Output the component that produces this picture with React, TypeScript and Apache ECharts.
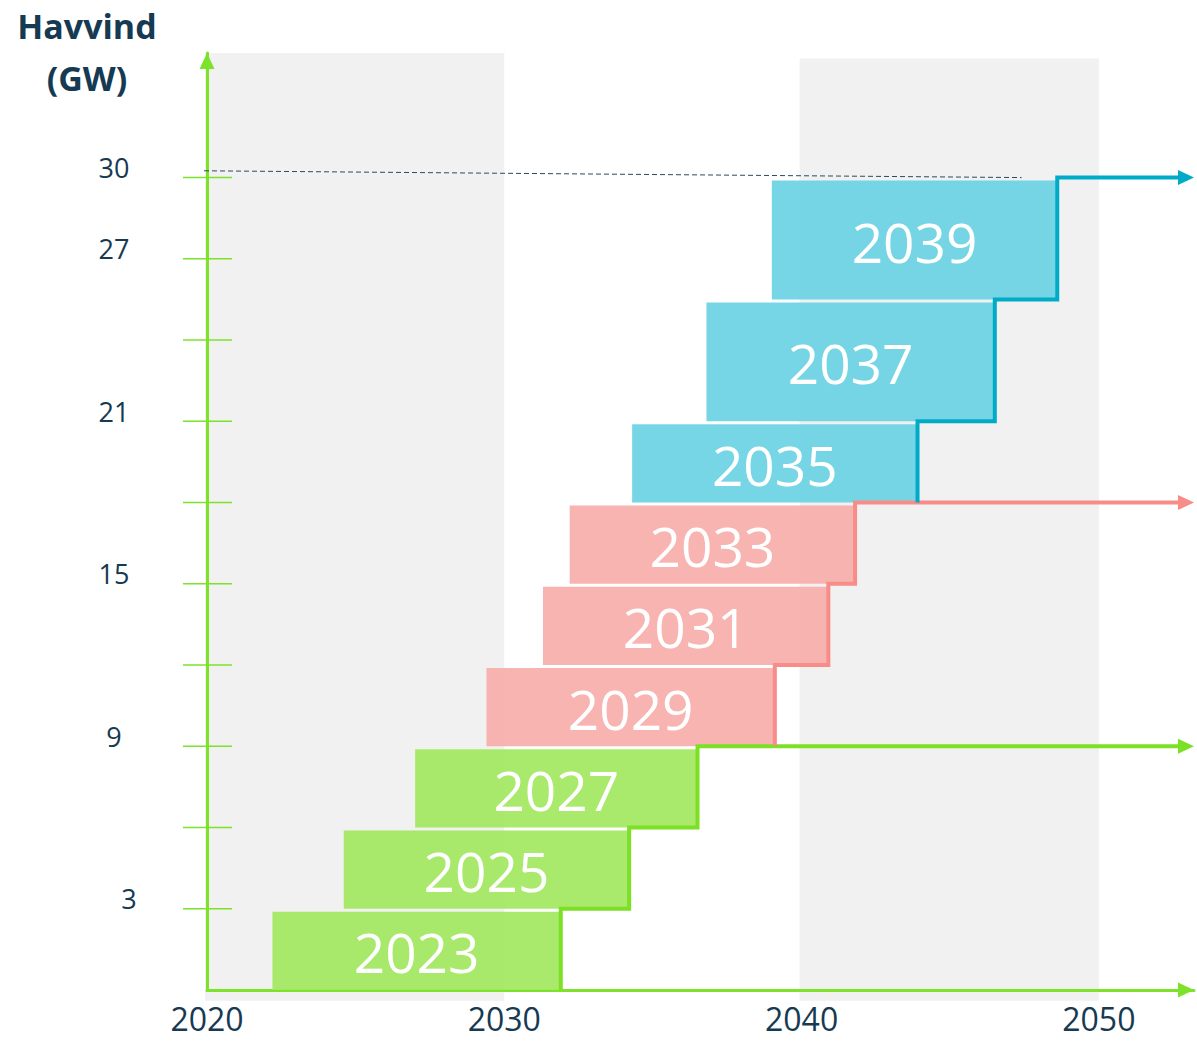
import React, { useEffect, useRef } from 'react';
import * as echarts from 'echarts';

// ---- data ----
const barLabels = ['2023', '2025', '2027', '2029', '2031', '2033', '2035', '2037', '2039'];
const barStart = [2022.2, 2024.6, 2027.0, 2029.4, 2031.3, 2032.2, 2034.3, 2036.8, 2039.0];
const barEnd = [2031.9, 2034.2, 2036.5, 2039.1, 2040.9, 2041.8, 2043.9, 2046.5, 2048.6];
const barBottom = [0, 3, 6, 9, 12, 15, 18, 21, 25.5];
const barTop = [3, 6, 9, 12, 15, 18, 21, 25.5, 30];
const barGroup = [0, 0, 0, 1, 1, 1, 2, 2, 2];

const yTickValues = [3, 6, 9, 12, 15, 18, 21, 24, 27, 30];
const yLabelValues = [3, 9, 15, 21, 27, 30];
const xLabelValues = [2020, 2030, 2040, 2050];

const bandStart = [2020, 2040];
const bandEnd = [2030, 2050];
const bandTop = [34.6, 34.4];
const bandBottom = [-0.4, -0.4];

const dashedFrom = [2019.9, 30.25];
const dashedTo = [2047.4, 30.0];

const arrowYear = 2053.2;

// ---- styles ----
const groupFill = ['#a3e862', '#f8aeab', '#6dd3e3'];
const groupLine = ['#7ce024', '#f78c88', '#00abc8'];
const navy = '#163a52';
const axisGreen = '#7de22a';

export default function App() {
  const ref = useRef<HTMLDivElement>(null);

  useEffect(() => {
    if (!ref.current) return;
    const chart = echarts.init(ref.current, undefined, { renderer: 'svg' });

    const groups = [0, 1, 2];

    const option: any = {
      animation: false,
      backgroundColor: '#ffffff',
      grid: { left: 207, right: 0, top: 53, bottom: 53, containLabel: false },
      xAxis: {
        type: 'value',
        min: 2020,
        max: 2053.2,
        interval: 10,
        splitLine: { show: false },
        axisTick: { show: false },
        axisLine: {
          show: true,
          lineStyle: { color: axisGreen, width: 3 },
          symbol: ['none', 'triangle'],
          symbolSize: [15, 16],
          symbolOffset: [0, -8],
        },
        axisLabel: {
          margin: 12,
          fontSize: 32,
          fontFamily: 'Open Sans',
          color: navy,
          formatter: (v: number) => (xLabelValues.indexOf(Math.round(v * 1000) / 1000) >= 0 ? String(v) : ''),
        },
      },
      yAxis: {
        type: 'value',
        min: 0,
        max: 34.6,
        interval: 3,
        splitLine: { show: false },
        axisTick: { show: false },
        axisLine: {
          show: true,
          lineStyle: { color: axisGreen, width: 3 },
          symbol: ['none', 'triangle'],
          symbolSize: [15, 16],
          symbolOffset: [0, -8],
        },
        axisLabel: {
          margin: 93,
          align: 'center',
          verticalAlign: 'bottom',
          lineHeight: 20,
          fontSize: 27,
          fontFamily: 'Open Sans',
          color: navy,
          formatter: (v: number) => {
            const r = Math.round(v * 1000) / 1000;
            if (yLabelValues.indexOf(r) < 0) return '';
            return r === 3 ? '{s|' + r + '}' : String(r);
          },
          rich: {
            s: {
              fontSize: 27,
              fontFamily: 'Open Sans',
              color: navy,
              lineHeight: 20,
              padding: [0, 0, 0, 30],
            },
          },
        },
      },
      graphic: [
        {
          type: 'text',
          style: {
            text: 'Havvind\n(GW)',
            x: 87,
            y: 0,
            fill: navy,
            fontSize: 34,
            fontWeight: 'bold',
            fontFamily: 'Open Sans',
            lineHeight: 52,
            align: 'center',
            verticalAlign: 'top',
          },
        },
      ],
      series: [
        {
          type: 'custom',
          z: 0,
          silent: true,
          data: bandStart.map((_, i) => i),
          renderItem: (params: any, api: any) => {
            const i = params.dataIndex;
            const p0 = api.coord([bandStart[i], bandTop[i]]);
            const p1 = api.coord([bandEnd[i], bandBottom[i]]);
            return {
              type: 'rect',
              shape: { x: p0[0] - 2, y: p0[1], width: p1[0] - p0[0] + 2, height: p1[1] - p0[1] },
              style: { fill: '#f1f1f1' },
            };
          },
        },
        {
          type: 'custom',
          z: 1,
          silent: true,
          data: [0],
          renderItem: (params: any, api: any) => {
            const a = api.coord(dashedFrom);
            const b = api.coord(dashedTo);
            return {
              type: 'line',
              shape: { x1: a[0], y1: a[1], x2: b[0], y2: b[1] },
              style: { stroke: '#2c4a62', lineWidth: 1, lineDash: [5, 3] },
            };
          },
        },
        {
          type: 'custom',
          z: 2,
          silent: true,
          data: yTickValues.map((_, i) => i),
          renderItem: (params: any, api: any) => {
            const p = api.coord([2020, yTickValues[params.dataIndex]]);
            return {
              type: 'line',
              shape: { x1: p[0] - 24, y1: p[1], x2: p[0] + 25, y2: p[1] },
              style: { stroke: axisGreen, lineWidth: 1.5 },
            };
          },
        },
        {
          type: 'custom',
          z: 3,
          silent: true,
          data: barLabels.map((_, i) => i),
          renderItem: (params: any, api: any) => {
            const i = params.dataIndex;
            const p0 = api.coord([barStart[i], barTop[i]]);
            const p1 = api.coord([barEnd[i], barBottom[i]]);
            const gap = 3;
            const top = p0[1] + gap;
            return {
              type: 'group',
              children: [
                {
                  type: 'rect',
                  shape: { x: p0[0], y: top, width: p1[0] - p0[0], height: p1[1] - top },
                  style: { fill: groupFill[barGroup[i]], opacity: 0.93 },
                },
                {
                  type: 'text',
                  style: {
                    text: barLabels[i],
                    x: (p0[0] + p1[0]) / 2,
                    y: (top + p1[1]) / 2 + 1,
                    align: 'center',
                    verticalAlign: 'middle',
                    fill: '#ffffff',
                    fontSize: 55,
                    fontFamily: 'Open Sans',
                  },
                },
              ],
            };
          },
        },
        {
          type: 'custom',
          z: 4,
          silent: true,
          data: groups,
          renderItem: (params: any, api: any) => {
            const g = params.dataIndex;
            const idx = barLabels.map((_, i) => i).filter((i) => barGroup[i] === g);
            const pts: number[][] = [];
            idx.forEach((i) => {
              pts.push(api.coord([barEnd[i], barBottom[i]]));
              pts.push(api.coord([barEnd[i], barTop[i]]));
            });
            const last = idx[idx.length - 1];
            const tip = api.coord([arrowYear, barTop[last]]);
            const al = 16;
            const aw = 7.5;
            pts.push([tip[0] - al + 2, tip[1]]);
            return {
              type: 'group',
              children: [
                {
                  type: 'polyline',
                  shape: { points: pts },
                  style: { stroke: groupLine[g], lineWidth: 4, fill: 'none', lineJoin: 'miter' },
                },
                {
                  type: 'polygon',
                  shape: {
                    points: [
                      [tip[0] - al, tip[1] - aw],
                      [tip[0], tip[1]],
                      [tip[0] - al, tip[1] + aw],
                    ],
                  },
                  style: { fill: groupLine[g] },
                },
              ],
            };
          },
        },
      ],
    };

    chart.setOption(option);
    return () => chart.dispose();
  }, []);

  return (
    <div
      ref={ref}
      style={{ position: 'absolute', left: 0, top: 0, width: 1197, height: 1043 }}
    />
  );
}
